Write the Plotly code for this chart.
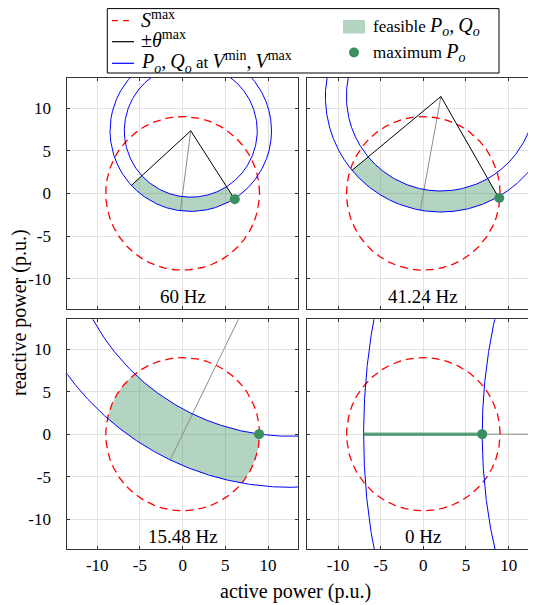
import numpy as np
import plotly.graph_objects as go

# ---------------- data ----------------
panel_titles = ["60 Hz", "41.24 Hz", "15.48 Hz", "0 Hz"]
circle_center_p = [0.95, 2.06, 12.6, 69.6]
circle_center_q = [7.33, 11.35, 26.05, 0.0]
radius_inner = [7.78, 11.08, 26.3, 62.7]
radius_outer = [9.45, 13.54, 32.3, 76.6]
theta_max_deg = [40, 40, 40, 40]
s_max = 9.0
max_p = [6.1, 8.9, 8.95, 6.9]
max_q = [-0.68, -0.55, 0.0, 0.0]
dc_segment_p = [-7.0, 6.9]   # 0 Hz: feasible set collapses onto Q = 0
dc_segment_q = [0.0, 0.0]
tick_vals = [-10, -5, 0, 5, 10]
tick_text = ["-10", "-5", "0", "5", "10"]

# ---------------- styling ----------------
W, H = 536, 605
OFF = 8  # page body margin
FONT = "Liberation Serif"
RED, BLUE, GRAY = "#ff0000", "#0000ff", "#8c8c8c"
FILL = "rgba(46,139,87,0.37)"
DOT = "#3a8f60"
FRAME = "#333333"

def px(x):
    return (x - OFF) / W

def py(y):
    return 1 - (y - OFF) / H

col_dom = [[px(67.3), px(298.0)], [px(307.3), px(538.5)]]
row_dom = [[py(309.0), py(77.7)], [py(549.0), py(319.3)]]
col_range = [[-13.5, 13.5], [-13.6, 13.5]]
row_range = [[-13.55, 13.55], [-13.5, 13.5]]

fig = go.Figure()
phi = np.linspace(0, 2 * np.pi, 3000)

def circle(cx, cy, r):
    return cx + r * np.cos(phi), cy + r * np.sin(phi)

for i in range(4):
    xa = "x" if i == 0 else f"x{i+1}"
    ya = "y" if i == 0 else f"y{i+1}"
    cx, cy = circle_center_p[i], circle_center_q[i]
    ri, ro = radius_inner[i], radius_outer[i]
    th = np.deg2rad(theta_max_deg[i])
    g = np.arctan2(-cy, -cx)  # direction from circle centre to origin
    c = np.array([cx, cy])

    # feasible region: annular sector within +-theta, inside S^max disk
    if i < 3:
        angs = np.linspace(g - th, g + th, 600)
        lo_pts, hi_pts = [], []
        for a in angs:
            u = np.array([np.cos(a), np.sin(a)])
            b = c @ u
            disc = b * b - (c @ c) + s_max ** 2
            if disc < 0:
                continue
            t1, t2 = -b - np.sqrt(disc), -b + np.sqrt(disc)
            lo, hi = max(ri, t1), min(ro, t2)
            if lo < hi:
                lo_pts.append(c + lo * u)
                hi_pts.append(c + hi * u)
        poly = np.array(lo_pts + hi_pts[::-1] + [lo_pts[0]])
        fig.add_trace(go.Scatter(x=poly[:, 0], y=poly[:, 1], mode="lines",
                                 fill="toself", fillcolor=FILL,
                                 line=dict(width=0), hoverinfo="skip",
                                 xaxis=xa, yaxis=ya))

    # gray line from centre towards the origin up to the outer circle
    end = c + ro * np.array([np.cos(g), np.sin(g)])
    fig.add_trace(go.Scatter(x=[cx, end[0]], y=[cy, end[1]], mode="lines",
                             line=dict(color=GRAY, width=1),
                             xaxis=xa, yaxis=ya))

    # S max circle
    sx, sy = circle(0, 0, s_max)
    fig.add_trace(go.Scatter(x=sx, y=sy, mode="lines",
                             line=dict(color=RED, width=1.3, dash="8px,5px"),
                             xaxis=xa, yaxis=ya))

    # P,Q circles at Vmin / Vmax
    for r in (ri, ro):
        bx, by = circle(cx, cy, r)
        fig.add_trace(go.Scatter(x=bx, y=by, mode="lines",
                                 line=dict(color=BLUE, width=1),
                                 xaxis=xa, yaxis=ya))

    # +- theta max lines
    for s in (-1, 1):
        e = c + ro * np.array([np.cos(g + s * th), np.sin(g + s * th)])
        fig.add_trace(go.Scatter(x=[cx, e[0]], y=[cy, e[1]], mode="lines",
                                 line=dict(color="black", width=1),
                                 xaxis=xa, yaxis=ya))

    if i == 3:
        fig.add_trace(go.Scatter(x=dc_segment_p, y=dc_segment_q, mode="lines",
                                 line=dict(color="rgba(46,139,87,0.7)", width=3.5),
                                 xaxis=xa, yaxis=ya))

    fig.add_trace(go.Scatter(x=[max_p[i]], y=[max_q[i]], mode="markers",
                             marker=dict(color=DOT, size=10),
                             xaxis=xa, yaxis=ya))

# ---------------- axes ----------------
layout_axes = {}
for i in range(4):
    r, col = divmod(i, 2)
    sfx = "" if i == 0 else str(i + 1)
    common = dict(tickvals=tick_vals, ticktext=tick_text, ticks="inside",
                  ticklen=3, tickcolor=FRAME, showline=True, linecolor=FRAME,
                  linewidth=1, showgrid=True, gridcolor="#e2e2e2", gridwidth=1,
                  zeroline=False, automargin=False, mirror="ticks",
                  tickfont=dict(family=FONT, size=17, color="black"))
    layout_axes["xaxis" + sfx] = dict(common, domain=col_dom[col],
                                      range=col_range[col],
                                      anchor="y" + sfx,
                                      showticklabels=(r == 1),
                                      ticklabelstandoff=1)
    layout_axes["yaxis" + sfx] = dict(common, domain=row_dom[r],
                                      range=row_range[r],
                                      anchor="x" + sfx,
                                      showticklabels=(col == 0),
                                      ticklabelstandoff=12)

annotations = []
for i in range(4):
    sfx = "" if i == 0 else str(i + 1)
    annotations.append(dict(text=panel_titles[i], x=0, xref="x" + sfx,
                            y=0, yref=f"y{sfx} domain", yanchor="bottom",
                            xanchor="center", showarrow=False, yshift=0,
                            font=dict(family=FONT, size=19, color="black")))

annotations.append(dict(text="active power (p.u.)", x=px(295), y=py(591),
                        xref="paper", yref="paper", showarrow=False,
                        xanchor="center", yanchor="middle",
                        font=dict(family=FONT, size=20, color="black")))
annotations.append(dict(text="reactive power (p.u.)", x=px(19), y=py(313),
                        xref="paper", yref="paper", showarrow=False,
                        xanchor="center", yanchor="middle",
                        textangle=-90,
                        font=dict(family=FONT, size=20, color="black")))

# ---------------- legend (drawn manually) ----------------
shapes = [dict(type="rect", xref="paper", yref="paper",
               x0=px(107.3), x1=px(499), y0=py(73), y1=py(8.6),
               line=dict(color="black", width=1), fillcolor="white")]
leg_rows = [(20.7, RED, "6px,5px"), (41.7, "black", "solid"), (63.3, BLUE, "solid")]
for yy, colr, dsh in leg_rows:
    shapes.append(dict(type="line", xref="paper", yref="paper",
                       x0=px(112), x1=px(134), y0=py(yy), y1=py(yy),
                       line=dict(color=colr, width=1.2, dash=dsh)))
shapes.append(dict(type="rect", xref="paper", yref="paper",
                   x0=px(343), x1=px(365), y0=py(33.5), y1=py(20),
                   line=dict(width=0), fillcolor=FILL))
shapes.append(dict(type="circle", xref="paper", yref="paper",
                   x0=px(349), x1=px(359), y0=py(57.5), y1=py(47.5),
                   line=dict(width=0), fillcolor=DOT))

def M(s):
    return f'<span style="font-size:20px">{s}</span>'

SP = "\u2009"
leg_texts = [
    (M("<i>S</i><sup>max</sup>"), 139, 19.5),
    (M("±<i>θ</i><sup>max</sup>"), 139, 39.5),
    (M(f"<i>P<sub>o</sub></i>,{SP}<i>Q<sub>o</sub></i>") + " at "
     + M(f"<i>V</i><sup>min</sup>,{SP}<i>V</i><sup>max</sup>"), 139, 62),
    ("feasible " + M(f"<i>P<sub>o</sub></i>,{SP}<i>Q<sub>o</sub></i>"), 371, 26.5),
    ("maximum " + M("<i>P<sub>o</sub></i>"), 371, 52.5),
]
for t, xx, yy in leg_texts:
    annotations.append(dict(text=t, x=px(xx), y=py(yy), xref="paper",
                            yref="paper", xanchor="left", yanchor="middle",
                            showarrow=False,
                            font=dict(family=FONT, size=17, color="black")))

fig.update_layout(width=W, height=H, margin=dict(l=0, r=0, t=0, b=0),
                  paper_bgcolor="white", plot_bgcolor="white",
                  showlegend=False, annotations=annotations, shapes=shapes,
                  **layout_axes)

fig.write_html("out.html")
